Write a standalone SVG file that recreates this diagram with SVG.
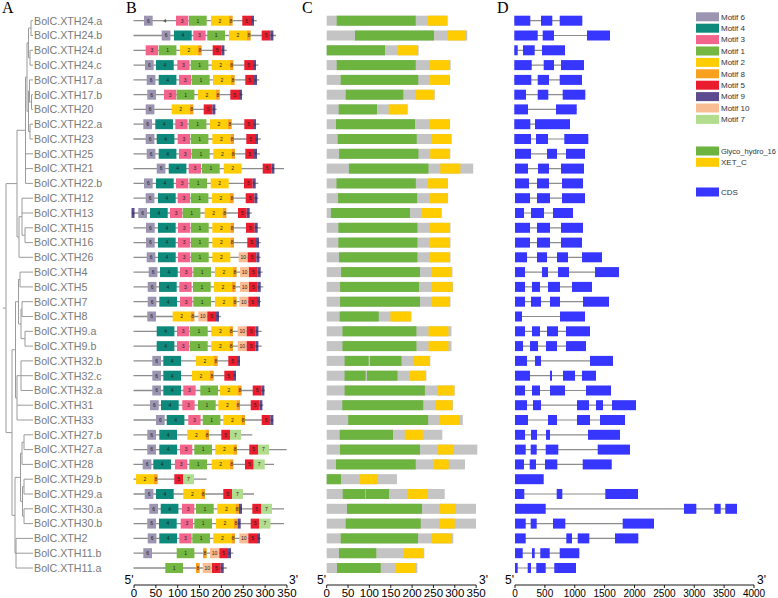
<svg xmlns="http://www.w3.org/2000/svg" xmlns:xlink="http://www.w3.org/1999/xlink" width="778" height="598" viewBox="0 0 778 598">
<style>
.lbl{font-family:"Liberation Sans",Arial,sans-serif;font-size:10.7px;fill:#7a7a7a}
.tree{fill:none;stroke:#9a9a9a;stroke-width:1}
.bl{stroke:#8c8c8c;stroke-width:1.3}
.mt{font-family:"Liberation Sans",Arial,sans-serif;font-size:5px;fill:#222;text-anchor:middle}
.cg{fill:#c4c4c4}.cgr{fill:#6db33f}.cy{fill:#ffcc00}
.ex{fill:#3636ff}.in{stroke:#8c8c8c;stroke-width:1.2}
.ax{stroke:#000;stroke-width:0.9;fill:none}
.num{font-family:"Liberation Sans",Arial,sans-serif;font-size:11.5px;text-anchor:middle;fill:#000}
.numd{font-family:"Liberation Sans",Arial,sans-serif;font-size:10px;text-anchor:middle;fill:#000}
.end{font-family:"Liberation Sans",Arial,sans-serif;font-size:12px;fill:#000}
.pl{font-family:"Liberation Serif","Times New Roman",serif;font-size:16px;fill:#000}
.leg{font-family:"Liberation Sans",Arial,sans-serif;font-size:8px;fill:#333}
</style>
<defs>
<g id="m6"><rect y="-5" width="8.7" height="10" fill="#9c95b2"/><text class="mt" x="4.35" y="1.8">6</text></g>
<g id="m4"><rect y="-5" width="17.7" height="10" fill="#0e8a7c"/><text class="mt" x="8.85" y="1.8">4</text></g>
<g id="m3"><rect y="-5" width="12.3" height="10" fill="#f2648c"/><text class="mt" x="6.15" y="1.8">3</text></g>
<g id="m1"><rect y="-5" width="17.7" height="10" fill="#74b843"/><text class="mt" x="8.85" y="1.8">1</text></g>
<g id="m2"><rect y="-5" width="18" height="10" fill="#ffcd03"/><text class="mt" x="9" y="1.8">2</text></g>
<g id="m8"><rect y="-5" width="3.7" height="10" fill="#f8a11e"/><text class="mt" x="1.85" y="1.8">8</text></g>
<g id="m5"><rect y="-5" width="8.7" height="10" fill="#ea1d2f"/><text class="mt" x="4.35" y="1.8">5</text></g>
<g id="m9"><rect y="-5" width="3" height="10" fill="#5c4b8e"/><text class="mt" x="1.5" y="1.6" style="font-size:4px">9</text></g>
<g id="m10"><rect y="-5" width="9" height="10" fill="#f9bd93"/><text class="mt" x="4.5" y="1.8">10</text></g>
<g id="m7"><rect y="-5" width="11" height="10" fill="#b2dc8e"/><text class="mt" x="5.5" y="1.8">7</text></g>
</defs>

<g id="panel-letters">
<text class="pl" x="2" y="13">A</text>
<text class="pl" x="126" y="13">B</text>
<text class="pl" x="302" y="13">C</text>
<text class="pl" x="497" y="13">D</text>
</g>

<g id="tree" class="tree">
<path d="M31 20.7H33M31 35.5H33M31 20.7V35.5
M30 50.3H33M30 65.1H33M30 50.3V65.1
M31.5 94.7H33M31.5 109.4H33M31.5 94.7V109.4
M29.5 79.9H33M29.5 102.05H31.5M29.5 79.9V102.05
M30 124.2H33M30 139H33M30 124.2V139
M28.5 28.1H31M28.5 57.7H30M28.5 28.1V57.7
M28.5 91H29.5M28.5 131.6H30M28.5 91V131.6
M27 42.9H28.5M27 111.3H28.5M27 42.9V111.3
M25.5 77.1H27M25.5 153.8H33M25.5 168.6H33M25.5 183.4H33M25.5 77.1V183.4
M25 227.8H33M25 242.6H33M25 227.8V242.6
M22 198.2H33M22 213H33M22 235.2H25M22 198.2V235.2
M19 216.7H22M19 257.3H33M19 216.7V257.3
M17 130.3H25.5M17 237H19M17 130.3V237
M20 272.1H33M20 286.9H33M20 272.1V286.9
M22 301.7H33M22 316.5H33M22 301.7V316.5
M25 331.3H33M25 346.1H33M25 331.3V346.1
M21 309.1H22M21 338.7H25M21 309.1V338.7
M18.5 279.5H20M18.5 323.9H21M18.5 279.5V323.9
M21 360.9H33M21 375.7H33M21 390.5H33M21 360.9V390.5
M17 375.7H21M17 405.2H33M17 420H33M17 375.7V420
M24 434.8H33M24 449.6H33M24 434.8V449.6
M22 442.2H24M22 464.4H33M22 442.2V464.4
M24 479.2H33M24 494H33M24 479.2V494
M24 508.8H33M24 523.6H33M24 508.8V523.6
M22.5 486.6H24M22.5 516.2H24M22.5 486.6V516.2
M20.5 453.3H22M20.5 501.4H22.5M20.5 453.3V501.4
M16 538.4H33M16 553.2H33M16 568H33M16 538.4V568
M15 477.4H20.5M15 553.2H16M15 477.4V553.2
M15.5 301.7H18.5M15.5 397.9H17M15.5 301.7V397.9
M12 349.8H15.5M12 515.3H15M12 349.8V515.3
M6 183.6H17M6 432.6H12M6 183.6V432.6M3 308.1H6"/>
</g>

<g id="rows">
<g id="r0" transform="translate(0,20.7)">
<text class="lbl" x="34" y="3.8">BolC.XTH24.a</text>
<line class="bl" x1="133.5" x2="256.7"/>
<use href="#m6" x="144"/><text class="mt" x="165" y="1.8">4</text><use href="#m3" x="176"/><use href="#m1" x="189"/><use href="#m2" x="211"/><use href="#m8" x="229"/><use href="#m5" x="242.3"/><use href="#m9" x="251"/>
<rect class="cg" x="326.7" y="-5" width="121" height="10"/><rect class="cgr" x="336.7" y="-5" width="79" height="10"/><rect class="cy" x="427.3" y="-5" width="19.7" height="10"/>
<line class="in" x1="514.3" x2="582.3"/><rect class="ex" x="514.3" y="-5" width="16" height="10"/><rect class="ex" x="541" y="-5" width="11.3" height="10"/><rect class="ex" x="559.7" y="-5" width="22.6" height="10"/>
</g>
<g id="r1" transform="translate(0,35.5)">
<text class="lbl" x="34" y="3.8">BolC.XTH24.b</text>
<line class="bl" x1="133.5" x2="276"/>
<use href="#m6" x="161.7"/><use href="#m4" x="174"/><use href="#m3" x="193.3"/><use href="#m1" x="207.3"/><use href="#m2" x="229"/><use href="#m8" x="247"/><use href="#m5" x="261.7"/><use href="#m9" x="270.4"/>
<rect class="cg" x="326.7" y="-5" width="140.6" height="10"/><rect class="cgr" x="355" y="-5" width="79" height="10"/><rect class="cy" x="447.3" y="-5" width="18.7" height="10"/>
<line class="in" x1="514.3" x2="610"/><rect class="ex" x="514.3" y="-5" width="23.4" height="10"/><rect class="ex" x="542.7" y="-5" width="11.3" height="10"/><rect class="ex" x="587" y="-5" width="23" height="10"/>
</g>
<g id="r2" transform="translate(0,50.3)">
<text class="lbl" x="34" y="3.8">BolC.XTH24.d</text>
<line class="bl" x1="133.5" x2="226.7"/>
<use href="#m3" x="145.7"/><use href="#m1" x="158.7"/><use href="#m2" x="180"/><use href="#m8" x="198"/><use href="#m5" x="212.7"/><use href="#m9" x="221.4"/>
<rect class="cg" x="326.7" y="-5" width="92" height="10"/><rect class="cgr" x="326.7" y="-5" width="58.3" height="10"/><rect class="cy" x="397.7" y="-5" width="20" height="10"/>
<line class="in" x1="514.3" x2="565"/><rect class="ex" x="514.3" y="-5" width="3.4" height="10"/><rect class="ex" x="523" y="-5" width="11.7" height="10"/><rect class="ex" x="542" y="-5" width="23" height="10"/>
</g>
<g id="r3" transform="translate(0,65.1)">
<text class="lbl" x="34" y="3.8">BolC.XTH24.c</text>
<line class="bl" x1="133.5" x2="258.3"/>
<use href="#m6" x="145"/><use href="#m4" x="156"/><use href="#m3" x="177.3"/><use href="#m1" x="190.7"/><use href="#m2" x="211.7"/><use href="#m8" x="229.7"/><use href="#m5" x="244.3"/><use href="#m9" x="253"/>
<rect class="cg" x="326.7" y="-5" width="124" height="10"/><rect class="cgr" x="336.7" y="-5" width="79" height="10"/><rect class="cy" x="429.3" y="-5" width="20" height="10"/>
<line class="in" x1="514.3" x2="584"/><rect class="ex" x="514.3" y="-5" width="17.4" height="10"/><rect class="ex" x="543.7" y="-5" width="10.3" height="10"/><rect class="ex" x="561" y="-5" width="23" height="10"/>
</g>
<g id="r4" transform="translate(0,79.9)">
<text class="lbl" x="34" y="3.8">BolC.XTH17.a</text>
<line class="bl" x1="133.5" x2="259.3"/>
<use href="#m6" x="146.7"/><use href="#m4" x="158.7"/><use href="#m3" x="179"/><use href="#m1" x="192"/><use href="#m2" x="213"/><use href="#m8" x="231"/><use href="#m5" x="245.3"/><use href="#m9" x="254"/>
<rect class="cg" x="326.7" y="-5" width="123.3" height="10"/><rect class="cgr" x="340.7" y="-5" width="77.6" height="10"/><rect class="cy" x="430" y="-5" width="19.3" height="10"/>
<line class="in" x1="514.3" x2="582"/><rect class="ex" x="514.3" y="-5" width="17" height="10"/><rect class="ex" x="537.7" y="-5" width="11.3" height="10"/><rect class="ex" x="559.7" y="-5" width="22.3" height="10"/>
</g>
<g id="r5" transform="translate(0,94.7)">
<text class="lbl" x="34" y="3.8">BolC.XTH17.b</text>
<line class="bl" x1="133.5" x2="242.7"/>
<use href="#m6" x="147.3"/><use href="#m3" x="164"/><use href="#m1" x="176.7"/><use href="#m2" x="198"/><use href="#m8" x="216"/><use href="#m5" x="230.3"/><use href="#m9" x="239"/>
<rect class="cg" x="326.7" y="-5" width="108" height="10"/><rect class="cgr" x="345.7" y="-5" width="57.6" height="10"/><rect class="cy" x="415" y="-5" width="19.3" height="10"/>
<line class="in" x1="514.3" x2="585.3"/><rect class="ex" x="514.3" y="-5" width="11.7" height="10"/><rect class="ex" x="537.7" y="-5" width="10.6" height="10"/><rect class="ex" x="562.7" y="-5" width="22.6" height="10"/>
</g>
<g id="r6" transform="translate(0,109.4)">
<text class="lbl" x="34" y="3.8">BolC.XTH20</text>
<line class="bl" x1="133.5" x2="216.7"/>
<use href="#m6" x="145.7"/><use href="#m2" x="171.7"/><use href="#m8" x="189.7"/><use href="#m5" x="203.7"/><use href="#m9" x="212.4"/>
<rect class="cg" x="326.7" y="-5" width="81" height="10"/><rect class="cgr" x="338.7" y="-5" width="38.3" height="10"/><rect class="cy" x="388.7" y="-5" width="18.6" height="10"/>
<line class="in" x1="514.3" x2="576.7"/><rect class="ex" x="514.3" y="-5" width="13.7" height="10"/><rect class="ex" x="556" y="-5" width="20.7" height="10"/>
</g>
<g id="r7" transform="translate(0,124.2)">
<text class="lbl" x="34" y="3.8">BolC.XTH22.a</text>
<line class="bl" x1="133.5" x2="259.3"/>
<use href="#m6" x="143.3"/><use href="#m4" x="155.3"/><use href="#m3" x="175.3"/><use href="#m1" x="188.7"/><use href="#m2" x="210"/><use href="#m8" x="228"/><use href="#m5" x="244.3"/><use href="#m9" x="253"/>
<rect class="cg" x="326.7" y="-5" width="123.3" height="10"/><rect class="cgr" x="336" y="-5" width="79" height="10"/><rect class="cy" x="429.7" y="-5" width="19.6" height="10"/>
<line class="in" x1="514.3" x2="570"/><rect class="ex" x="514.3" y="-5" width="16" height="10"/><rect class="ex" x="535" y="-5" width="35" height="10"/>
</g>
<g id="r8" transform="translate(0,139)">
<text class="lbl" x="34" y="3.8">BolC.XTH23</text>
<line class="bl" x1="133.5" x2="260.7"/>
<use href="#m6" x="145.7"/><use href="#m4" x="156.7"/><use href="#m3" x="177.7"/><use href="#m1" x="190.7"/><use href="#m2" x="212.3"/><use href="#m8" x="230.3"/><use href="#m5" x="246.3"/><use href="#m9" x="255"/>
<rect class="cg" x="326.7" y="-5" width="125" height="10"/><rect class="cgr" x="337.7" y="-5" width="79" height="10"/><rect class="cy" x="431" y="-5" width="20" height="10"/>
<line class="in" x1="514.3" x2="588.3"/><rect class="ex" x="514.3" y="-5" width="16.7" height="10"/><rect class="ex" x="536" y="-5" width="12" height="10"/><rect class="ex" x="564.3" y="-5" width="24" height="10"/>
</g>
<g id="r9" transform="translate(0,153.8)">
<text class="lbl" x="34" y="3.8">BolC.XTH25</text>
<line class="bl" x1="133.5" x2="260"/>
<use href="#m6" x="146.7"/><use href="#m4" x="158.7"/><use href="#m3" x="179"/><use href="#m1" x="192"/><use href="#m2" x="213.3"/><use href="#m8" x="231.3"/><use href="#m5" x="245.3"/><use href="#m9" x="254"/>
<rect class="cg" x="326.7" y="-5" width="123.6" height="10"/><rect class="cgr" x="339.1" y="-5" width="79.3" height="10"/><rect class="cy" x="430.2" y="-5" width="19.6" height="10"/>
<line class="in" x1="515" x2="585"/><rect class="ex" x="515" y="-5" width="16" height="10"/><rect class="ex" x="547" y="-5" width="10" height="10"/><rect class="ex" x="566" y="-5" width="19" height="10"/>
</g>
<g id="r10" transform="translate(0,168.6)">
<text class="lbl" x="34" y="3.8">BolC.XTH21</text>
<line class="bl" x1="133.5" x2="284"/>
<use href="#m6" x="156.7"/><use href="#m4" x="168.7"/><use href="#m3" x="188.7"/><use href="#m1" x="202"/><use href="#m2" x="223.7"/><use href="#m5" x="262.7"/><use href="#m9" x="271.4"/>
<rect class="cg" x="326.7" y="-5" width="146.5" height="10"/><rect class="cgr" x="348.9" y="-5" width="79.6" height="10"/><rect class="cy" x="440.3" y="-5" width="20" height="10"/>
<line class="in" x1="515" x2="584"/><rect class="ex" x="515" y="-5" width="13" height="10"/><rect class="ex" x="538" y="-5" width="11" height="10"/><rect class="ex" x="561" y="-5" width="23" height="10"/>
</g>
<g id="r11" transform="translate(0,183.4)">
<text class="lbl" x="34" y="3.8">BolC.XTH22.b</text>
<line class="bl" x1="133.5" x2="258.3"/>
<use href="#m6" x="144"/><use href="#m4" x="156"/><use href="#m3" x="176"/><use href="#m1" x="189.3"/><use href="#m2" x="210.7"/><use href="#m5" x="244"/><use href="#m9" x="252.7"/>
<rect class="cg" x="326.7" y="-5" width="121.4" height="10"/><rect class="cgr" x="336.5" y="-5" width="79.3" height="10"/><rect class="cy" x="427.7" y="-5" width="19.9" height="10"/>
<line class="in" x1="515" x2="583"/><rect class="ex" x="515" y="-5" width="14" height="10"/><rect class="ex" x="537" y="-5" width="12" height="10"/><rect class="ex" x="562" y="-5" width="21" height="10"/>
</g>
<g id="r12" transform="translate(0,198.2)">
<text class="lbl" x="34" y="3.8">BolC.XTH12</text>
<line class="bl" x1="133.5" x2="258.3"/>
<use href="#m6" x="145.7"/><use href="#m4" x="158"/><use href="#m3" x="177.7"/><use href="#m1" x="190.7"/><use href="#m2" x="212"/><use href="#m8" x="230"/><use href="#m5" x="245.7"/><use href="#m9" x="254.4"/>
<rect class="cg" x="326.7" y="-5" width="121.4" height="10"/><rect class="cgr" x="338.1" y="-5" width="79" height="10"/><rect class="cy" x="429.2" y="-5" width="18.4" height="10"/>
<line class="in" x1="515" x2="585"/><rect class="ex" x="515" y="-5" width="15" height="10"/><rect class="ex" x="537" y="-5" width="13" height="10"/><rect class="ex" x="562" y="-5" width="23" height="10"/>
</g>
<g id="r13" transform="translate(0,213)">
<text class="lbl" x="34" y="3.8">BolC.XTH13</text>
<line class="bl" x1="133.5" x2="251.7"/>
<use href="#m9" x="131.5"/><use href="#m6" x="138.3"/><use href="#m4" x="150"/><use href="#m3" x="170"/><use href="#m1" x="182.7"/><use href="#m2" x="204.7"/><use href="#m8" x="222.7"/><use href="#m5" x="238"/><use href="#m9" x="246.7"/>
<rect class="cg" x="326.7" y="-5" width="115" height="10"/><rect class="cgr" x="330.9" y="-5" width="79.1" height="10"/><rect class="cy" x="422.1" y="-5" width="19.1" height="10"/>
<line class="in" x1="515" x2="573"/><rect class="ex" x="515" y="-5" width="9" height="10"/><rect class="ex" x="531" y="-5" width="13" height="10"/><rect class="ex" x="553" y="-5" width="20" height="10"/>
</g>
<g id="r14" transform="translate(0,227.8)">
<text class="lbl" x="34" y="3.8">BolC.XTH15</text>
<line class="bl" x1="133.5" x2="260.7"/>
<use href="#m6" x="146"/><use href="#m4" x="158"/><use href="#m3" x="178"/><use href="#m1" x="191"/><use href="#m2" x="212.3"/><use href="#m8" x="230.3"/><use href="#m5" x="246"/><use href="#m9" x="254.7"/>
<rect class="cg" x="326.7" y="-5" width="123.8" height="10"/><rect class="cgr" x="338.4" y="-5" width="79" height="10"/><rect class="cy" x="429.2" y="-5" width="20.8" height="10"/>
<line class="in" x1="515" x2="583"/><rect class="ex" x="515" y="-5" width="15" height="10"/><rect class="ex" x="537" y="-5" width="13" height="10"/><rect class="ex" x="561" y="-5" width="22" height="10"/>
</g>
<g id="r15" transform="translate(0,242.6)">
<text class="lbl" x="34" y="3.8">BolC.XTH16</text>
<line class="bl" x1="133.5" x2="260.7"/>
<use href="#m6" x="146"/><use href="#m4" x="158"/><use href="#m3" x="178"/><use href="#m1" x="191"/><use href="#m2" x="212.3"/><use href="#m8" x="230.3"/><use href="#m5" x="247.3"/><use href="#m9" x="256"/>
<rect class="cg" x="326.7" y="-5" width="123.8" height="10"/><rect class="cgr" x="338.4" y="-5" width="79" height="10"/><rect class="cy" x="429.2" y="-5" width="20.8" height="10"/>
<line class="in" x1="515" x2="582"/><rect class="ex" x="515" y="-5" width="15" height="10"/><rect class="ex" x="537" y="-5" width="13" height="10"/><rect class="ex" x="561" y="-5" width="21" height="10"/>
</g>
<g id="r16" transform="translate(0,257.3)">
<text class="lbl" x="34" y="3.8">BolC.XTH26</text>
<line class="bl" x1="133.5" x2="260.7"/>
<use href="#m6" x="146.7"/><use href="#m4" x="158"/><use href="#m3" x="178"/><use href="#m1" x="191"/><use href="#m2" x="212.3"/><use href="#m10" x="238.7"/><use href="#m5" x="247.7"/><use href="#m9" x="256.4"/>
<rect class="cg" x="326.7" y="-5" width="123.8" height="10"/><rect class="cgr" x="339.1" y="-5" width="78.3" height="10"/><rect class="cy" x="429.3" y="-5" width="20.7" height="10"/>
<line class="in" x1="515" x2="602"/><rect class="ex" x="515" y="-5" width="12" height="10"/><rect class="ex" x="537" y="-5" width="10" height="10"/><rect class="ex" x="557" y="-5" width="11" height="10"/><rect class="ex" x="582" y="-5" width="20" height="10"/>
</g>
<g id="r17" transform="translate(0,272.1)">
<text class="lbl" x="34" y="3.8">BolC.XTH4</text>
<line class="bl" x1="133.5" x2="262.7"/>
<use href="#m6" x="148.7"/><use href="#m4" x="160"/><use href="#m3" x="180"/><use href="#m1" x="193.3"/><use href="#m2" x="215"/><use href="#m8" x="233"/><use href="#m10" x="240"/><use href="#m5" x="249"/><use href="#m9" x="257.7"/>
<rect class="cg" x="326.7" y="-5" width="125.7" height="10"/><rect class="cgr" x="341.1" y="-5" width="78.9" height="10"/><rect class="cy" x="431.8" y="-5" width="20.1" height="10"/>
<line class="in" x1="515" x2="619"/><rect class="ex" x="515" y="-5" width="10" height="10"/><rect class="ex" x="542" y="-5" width="6" height="10"/><rect class="ex" x="558" y="-5" width="11" height="10"/><rect class="ex" x="595" y="-5" width="24" height="10"/>
</g>
<g id="r18" transform="translate(0,286.9)">
<text class="lbl" x="34" y="3.8">BolC.XTH5</text>
<line class="bl" x1="133.5" x2="263.3"/>
<use href="#m6" x="147.7"/><use href="#m4" x="159"/><use href="#m3" x="179.3"/><use href="#m1" x="193"/><use href="#m2" x="214"/><use href="#m8" x="232"/><use href="#m10" x="240"/><use href="#m5" x="249"/><use href="#m9" x="257.7"/>
<rect class="cg" x="326.7" y="-5" width="126.3" height="10"/><rect class="cgr" x="340.1" y="-5" width="78.9" height="10"/><rect class="cy" x="431.2" y="-5" width="21.3" height="10"/>
<line class="in" x1="515" x2="592"/><rect class="ex" x="515" y="-5" width="10" height="10"/><rect class="ex" x="532" y="-5" width="8" height="10"/><rect class="ex" x="548" y="-5" width="12" height="10"/><rect class="ex" x="572" y="-5" width="20" height="10"/>
</g>
<g id="r19" transform="translate(0,301.7)">
<text class="lbl" x="34" y="3.8">BolC.XTH7</text>
<line class="bl" x1="133.5" x2="261"/>
<use href="#m6" x="147.7"/><use href="#m4" x="159.3"/><use href="#m3" x="180"/><use href="#m1" x="193.3"/><use href="#m2" x="215"/><use href="#m8" x="233"/><use href="#m10" x="239.3"/><use href="#m5" x="248.3"/><use href="#m9" x="257"/>
<rect class="cg" x="326.7" y="-5" width="123.8" height="10"/><rect class="cgr" x="340.1" y="-5" width="79.9" height="10"/><rect class="cy" x="431.8" y="-5" width="18.2" height="10"/>
<line class="in" x1="515" x2="609"/><rect class="ex" x="515" y="-5" width="10" height="10"/><rect class="ex" x="531" y="-5" width="10" height="10"/><rect class="ex" x="550" y="-5" width="10" height="10"/><rect class="ex" x="583" y="-5" width="26" height="10"/>
</g>
<g id="r20" transform="translate(0,316.5)">
<text class="lbl" x="34" y="3.8">BolC.XTH8</text>
<line class="bl" x1="133.5" x2="220.7"/>
<use href="#m6" x="147.3"/><use href="#m2" x="172.7"/><use href="#m8" x="190.7"/><use href="#m10" x="198.3"/><use href="#m5" x="207.3"/><use href="#m9" x="216"/>
<rect class="cg" x="326.7" y="-5" width="84.7" height="10"/><rect class="cgr" x="339.7" y="-5" width="39" height="10"/><rect class="cy" x="390.4" y="-5" width="20.5" height="10"/>
<line class="in" x1="515" x2="585"/><rect class="ex" x="515" y="-5" width="7" height="10"/><rect class="ex" x="560" y="-5" width="25" height="10"/>
</g>
<g id="r21" transform="translate(0,331.3)">
<text class="lbl" x="34" y="3.8">BolC.XTH9.a</text>
<line class="bl" x1="133.5" x2="261.7"/>
<use href="#m4" x="156.7"/><use href="#m3" x="177"/><use href="#m1" x="190"/><use href="#m2" x="211.3"/><use href="#m8" x="229.3"/><use href="#m10" x="237.7"/><use href="#m5" x="246.7"/><use href="#m9" x="255.4"/>
<rect class="cg" x="326.7" y="-5" width="124.8" height="10"/><rect class="cgr" x="342.5" y="-5" width="73.9" height="10"/><rect class="cy" x="428.5" y="-5" width="20" height="10"/>
<line class="in" x1="515" x2="590"/><rect class="ex" x="515" y="-5" width="10" height="10"/><rect class="ex" x="532" y="-5" width="8" height="10"/><rect class="ex" x="547" y="-5" width="11" height="10"/><rect class="ex" x="566" y="-5" width="24" height="10"/>
</g>
<g id="r22" transform="translate(0,346.1)">
<text class="lbl" x="34" y="3.8">BolC.XTH9.b</text>
<line class="bl" x1="133.5" x2="261.7"/>
<use href="#m4" x="156.7"/><use href="#m3" x="177"/><use href="#m1" x="190"/><use href="#m2" x="211.3"/><use href="#m8" x="229.3"/><use href="#m10" x="237.7"/><use href="#m5" x="246.7"/><use href="#m9" x="255.4"/>
<rect class="cg" x="326.7" y="-5" width="124.8" height="10"/><rect class="cgr" x="342.5" y="-5" width="73.9" height="10"/><rect class="cy" x="428.5" y="-5" width="20" height="10"/>
<line class="in" x1="515" x2="586"/><rect class="ex" x="515" y="-5" width="8" height="10"/><rect class="ex" x="530" y="-5" width="8" height="10"/><rect class="ex" x="546" y="-5" width="11" height="10"/><rect class="ex" x="566" y="-5" width="20" height="10"/>
</g>
<g id="r23" transform="translate(0,360.9)">
<text class="lbl" x="34" y="3.8">BolC.XTH32.b</text>
<line class="bl" x1="133.5" x2="240"/>
<use href="#m6" x="152.3"/><use href="#m4" x="163.3"/><use href="#m2" x="196"/><use href="#m8" x="214"/><use href="#m5" x="228.3"/><use href="#m9" x="237"/>
<rect class="cg" x="326.7" y="-5" width="103.6" height="10"/><rect class="cgr" x="344.6" y="-5" width="24" height="10"/><rect class="cgr" x="370" y="-5" width="31.5" height="10"/><rect class="cy" x="413.3" y="-5" width="16.5" height="10"/>
<line class="in" x1="515" x2="613"/><rect class="ex" x="515" y="-5" width="12" height="10"/><rect class="ex" x="535" y="-5" width="6" height="10"/><rect class="ex" x="590" y="-5" width="23" height="10"/>
</g>
<g id="r24" transform="translate(0,375.7)">
<text class="lbl" x="34" y="3.8">BolC.XTH32.c</text>
<line class="bl" x1="133.5" x2="236"/>
<use href="#m6" x="152.3"/><use href="#m4" x="163.3"/><use href="#m2" x="192"/><use href="#m8" x="210"/><use href="#m5" x="224.3"/><use href="#m9" x="233"/>
<rect class="cg" x="326.7" y="-5" width="99.7" height="10"/><rect class="cgr" x="344.6" y="-5" width="21" height="10"/><rect class="cgr" x="367" y="-5" width="30.5" height="10"/><rect class="cy" x="409.7" y="-5" width="16.3" height="10"/>
<line class="in" x1="515" x2="596"/><rect class="ex" x="515" y="-5" width="15" height="10"/><rect class="ex" x="550" y="-5" width="2" height="10"/><rect class="ex" x="563" y="-5" width="12" height="10"/><rect class="ex" x="582" y="-5" width="14" height="10"/>
</g>
<g id="r25" transform="translate(0,390.5)">
<text class="lbl" x="34" y="3.8">BolC.XTH32.a</text>
<line class="bl" x1="133.5" x2="265"/>
<use href="#m6" x="152.3"/><use href="#m4" x="163.3"/><use href="#m3" x="183.3"/><use href="#m1" x="200.3"/><use href="#m2" x="220"/><use href="#m8" x="238"/><use href="#m5" x="252.7"/><use href="#m9" x="261.4"/>
<rect class="cg" x="326.7" y="-5" width="128" height="10"/><rect class="cgr" x="344.6" y="-5" width="80.3" height="10"/><rect class="cy" x="437.3" y="-5" width="17" height="10"/>
<line class="in" x1="515" x2="611"/><rect class="ex" x="515" y="-5" width="10" height="10"/><rect class="ex" x="532" y="-5" width="8" height="10"/><rect class="ex" x="550" y="-5" width="15" height="10"/><rect class="ex" x="586" y="-5" width="25" height="10"/>
</g>
<g id="r26" transform="translate(0,405.2)">
<text class="lbl" x="34" y="3.8">BolC.XTH31</text>
<line class="bl" x1="133.5" x2="263.3"/>
<use href="#m6" x="150"/><use href="#m4" x="161"/><use href="#m3" x="182.3"/><use href="#m1" x="198"/><use href="#m2" x="218.3"/><use href="#m8" x="236.3"/><use href="#m5" x="250.7"/><use href="#m9" x="259.4"/>
<rect class="cg" x="326.7" y="-5" width="126.3" height="10"/><rect class="cgr" x="342.3" y="-5" width="80.9" height="10"/><rect class="cy" x="435.1" y="-5" width="17.4" height="10"/>
<line class="in" x1="515" x2="636"/><rect class="ex" x="515" y="-5" width="12" height="10"/><rect class="ex" x="533" y="-5" width="8" height="10"/><rect class="ex" x="577" y="-5" width="12" height="10"/><rect class="ex" x="596" y="-5" width="7" height="10"/><rect class="ex" x="612" y="-5" width="24" height="10"/>
</g>
<g id="r27" transform="translate(0,420)">
<text class="lbl" x="34" y="3.8">BolC.XTH33</text>
<line class="bl" x1="133.5" x2="273.3"/>
<use href="#m6" x="156"/><use href="#m4" x="166.7"/><use href="#m3" x="188.3"/><use href="#m1" x="202.7"/><use href="#m2" x="223.3"/><use href="#m8" x="241.3"/><use href="#m5" x="261.7"/><use href="#m9" x="270.4"/>
<rect class="cg" x="326.7" y="-5" width="136.1" height="10"/><rect class="cgr" x="348.2" y="-5" width="79.9" height="10"/><rect class="cy" x="440" y="-5" width="20" height="10"/>
<line class="in" x1="515" x2="625"/><rect class="ex" x="515" y="-5" width="13" height="10"/><rect class="ex" x="548" y="-5" width="9" height="10"/><rect class="ex" x="577" y="-5" width="13" height="10"/><rect class="ex" x="600" y="-5" width="25" height="10"/>
</g>
<g id="r28" transform="translate(0,434.8)">
<text class="lbl" x="34" y="3.8">BolC.XTH27.b</text>
<line class="bl" x1="133.5" x2="252.3"/>
<use href="#m6" x="147.3"/><use href="#m4" x="159.3"/><use href="#m2" x="187.3"/><use href="#m8" x="205.3"/><use href="#m5" x="221.3"/><use href="#m7" x="230"/>
<rect class="cg" x="326.7" y="-5" width="115.6" height="10"/><rect class="cgr" x="339.7" y="-5" width="53.3" height="10"/><rect class="cy" x="404.8" y="-5" width="18" height="10"/>
<line class="in" x1="515" x2="620"/><rect class="ex" x="515" y="-5" width="10" height="10"/><rect class="ex" x="531" y="-5" width="6" height="10"/><rect class="ex" x="546" y="-5" width="4" height="10"/><rect class="ex" x="588" y="-5" width="32" height="10"/>
</g>
<g id="r29" transform="translate(0,449.6)">
<text class="lbl" x="34" y="3.8">BolC.XTH27.a</text>
<line class="bl" x1="133.5" x2="286.7"/>
<use href="#m6" x="147.3"/><use href="#m4" x="159.3"/><use href="#m3" x="180"/><use href="#m1" x="194.3"/><use href="#m2" x="215.3"/><use href="#m8" x="233.3"/><use href="#m5" x="249.3"/><use href="#m7" x="258"/>
<rect class="cg" x="326.7" y="-5" width="150.6" height="10"/><rect class="cgr" x="340" y="-5" width="80" height="10"/><rect class="cy" x="437.3" y="-5" width="16" height="10"/>
<line class="in" x1="515" x2="630"/><rect class="ex" x="515" y="-5" width="10.7" height="10"/><rect class="ex" x="530.7" y="-5" width="6" height="10"/><rect class="ex" x="545.7" y="-5" width="12.6" height="10"/><rect class="ex" x="597.7" y="-5" width="32.3" height="10"/>
</g>
<g id="r30" transform="translate(0,464.4)">
<text class="lbl" x="34" y="3.8">BolC.XTH28</text>
<line class="bl" x1="133.5" x2="274"/>
<use href="#m6" x="142.7"/><use href="#m4" x="153.3"/><use href="#m3" x="175"/><use href="#m1" x="189.3"/><use href="#m2" x="211.7"/><use href="#m8" x="229.7"/><use href="#m5" x="245"/><use href="#m7" x="253.7"/>
<rect class="cg" x="326.7" y="-5" width="138.3" height="10"/><rect class="cgr" x="336" y="-5" width="79.7" height="10"/><rect class="cy" x="433" y="-5" width="15.7" height="10"/>
<line class="in" x1="515" x2="611.7"/><rect class="ex" x="515" y="-5" width="9" height="10"/><rect class="ex" x="529.7" y="-5" width="6.3" height="10"/><rect class="ex" x="545" y="-5" width="12.3" height="10"/><rect class="ex" x="582.7" y="-5" width="29" height="10"/>
</g>
<g id="r31" transform="translate(0,479.2)">
<text class="lbl" x="34" y="3.8">BolC.XTH29.b</text>
<line class="bl" x1="133.5" x2="206.7"/>
<use href="#m2" x="136"/><use href="#m8" x="154"/><use href="#m5" x="174.3"/><use href="#m7" x="183"/>
<rect class="cg" x="326.7" y="-5" width="70.3" height="10"/><rect class="cgr" x="326.7" y="-5" width="14.3" height="10"/><rect class="cy" x="360" y="-5" width="17.7" height="10"/>
<rect class="ex" x="515" y="-5" width="28.7" height="10"/>
</g>
<g id="r32" transform="translate(0,494)">
<text class="lbl" x="34" y="3.8">BolC.XTH29.a</text>
<line class="bl" x1="133.5" x2="254"/>
<use href="#m6" x="144.7"/><use href="#m4" x="156"/><use href="#m2" x="183.3"/><use href="#m8" x="201.3"/><use href="#m5" x="223.3"/><use href="#m7" x="232"/>
<rect class="cg" x="326.7" y="-5" width="118" height="10"/><rect class="cgr" x="342.7" y="-5" width="22.3" height="10"/><rect class="cgr" x="365.7" y="-5" width="23.3" height="10"/><rect class="cy" x="407.7" y="-5" width="19.3" height="10"/>
<line class="in" x1="515" x2="638"/><rect class="ex" x="515" y="-5" width="9.3" height="10"/><rect class="ex" x="556.7" y="-5" width="5.6" height="10"/><rect class="ex" x="605.3" y="-5" width="32.7" height="10"/>
</g>
<g id="r33" transform="translate(0,508.8)">
<text class="lbl" x="34" y="3.8">BolC.XTH30.a</text>
<line class="bl" x1="133.5" x2="284"/>
<use href="#m6" x="149.3"/><use href="#m4" x="160.7"/><use href="#m3" x="182"/><use href="#m1" x="196"/><use href="#m2" x="217.3"/><use href="#m8" x="235.3"/><use href="#m9" x="239"/><use href="#m5" x="252.3"/><use href="#m7" x="261"/>
<rect class="cg" x="326.7" y="-5" width="149.3" height="10"/><rect class="cgr" x="347" y="-5" width="75" height="10"/><rect class="cy" x="439.7" y="-5" width="16" height="10"/>
<line class="in" x1="515" x2="737"/><rect class="ex" x="515" y="-5" width="30.7" height="10"/><rect class="ex" x="684" y="-5" width="12.3" height="10"/><rect class="ex" x="714.3" y="-5" width="6.4" height="10"/><rect class="ex" x="725.3" y="-5" width="11.7" height="10"/>
</g>
<g id="r34" transform="translate(0,523.6)">
<text class="lbl" x="34" y="3.8">BolC.XTH30.b</text>
<line class="bl" x1="133.5" x2="284"/>
<use href="#m6" x="147.3"/><use href="#m4" x="159"/><use href="#m3" x="180.7"/><use href="#m1" x="194.3"/><use href="#m2" x="216"/><use href="#m8" x="234"/><use href="#m9" x="237.7"/><use href="#m5" x="250.7"/><use href="#m7" x="259.4"/>
<rect class="cg" x="326.7" y="-5" width="149.3" height="10"/><rect class="cgr" x="345.7" y="-5" width="75" height="10"/><rect class="cy" x="439" y="-5" width="15.7" height="10"/>
<line class="in" x1="515" x2="654"/><rect class="ex" x="515" y="-5" width="10.7" height="10"/><rect class="ex" x="530.7" y="-5" width="6" height="10"/><rect class="ex" x="553" y="-5" width="12.3" height="10"/><rect class="ex" x="622.7" y="-5" width="31.3" height="10"/>
</g>
<g id="r35" transform="translate(0,538.4)">
<text class="lbl" x="34" y="3.8">BolC.XTH2</text>
<line class="bl" x1="133.5" x2="260.7"/>
<use href="#m6" x="147.7"/><use href="#m4" x="159.3"/><use href="#m3" x="179.3"/><use href="#m1" x="192.3"/><use href="#m2" x="213.3"/><use href="#m8" x="231.3"/><use href="#m10" x="239.3"/><use href="#m5" x="248.3"/><use href="#m9" x="257"/>
<rect class="cg" x="326.7" y="-5" width="126.6" height="10"/><rect class="cgr" x="340.7" y="-5" width="77.3" height="10"/><rect class="cy" x="432" y="-5" width="19.7" height="10"/>
<line class="in" x1="515" x2="638.3"/><rect class="ex" x="515" y="-5" width="10.7" height="10"/><rect class="ex" x="566.3" y="-5" width="5.7" height="10"/><rect class="ex" x="577.7" y="-5" width="11.6" height="10"/><rect class="ex" x="615" y="-5" width="23.3" height="10"/>
</g>
<g id="r36" transform="translate(0,553.2)">
<text class="lbl" x="34" y="3.8">BolC.XTH11.b</text>
<line class="bl" x1="133.5" x2="233.3"/>
<use href="#m6" x="143.3"/><use href="#m1" x="176.7"/><use href="#m8" x="203"/><use href="#m10" x="210"/><use href="#m5" x="219.3"/><use href="#m9" x="228"/>
<rect class="cg" x="326.7" y="-5" width="97.6" height="10"/><rect class="cgr" x="339" y="-5" width="37.3" height="10"/><rect class="cy" x="403" y="-5" width="21" height="10"/>
<line class="in" x1="515" x2="579.3"/><rect class="ex" x="515" y="-5" width="7.7" height="10"/><rect class="ex" x="532" y="-5" width="2.7" height="10"/><rect class="ex" x="540.3" y="-5" width="9.4" height="10"/><rect class="ex" x="559.7" y="-5" width="19.6" height="10"/>
</g>
<g id="r37" transform="translate(0,568)">
<text class="lbl" x="34" y="3.8">BolC.XTH11.a</text>
<line class="bl" x1="133.5" x2="226.7"/>
<use href="#m1" x="165.3"/><use href="#m8" x="196"/><use href="#m10" x="202.7"/><use href="#m5" x="212"/><use href="#m9" x="220.7"/>
<rect class="cg" x="326.7" y="-5" width="90.6" height="10"/><rect class="cgr" x="337" y="-5" width="43.7" height="10"/><rect class="cy" x="396" y="-5" width="20" height="10"/>
<line class="in" x1="515" x2="576"/><rect class="ex" x="515" y="-5" width="2.7" height="10"/><rect class="ex" x="527.7" y="-5" width="3.3" height="10"/><rect class="ex" x="536.3" y="-5" width="9.4" height="10"/><rect class="ex" x="554.3" y="-5" width="21.7" height="10"/>
</g>
</g>

<g id="axes">
<path class="ax" d="M134 585H287M134 585v3M155.85 585v3M177.7 585v3M199.55 585v3M221.4 585v3M243.25 585v3M265.1 585v3M286.95 585v3"/>
<text class="end" x="124.5" y="584">5'</text><text class="end" x="289" y="584">3'</text>
<text class="num" x="134" y="597">0</text><text class="num" x="155.85" y="597">50</text><text class="num" x="177.7" y="597">100</text><text class="num" x="199.55" y="597">150</text><text class="num" x="221.4" y="597">200</text><text class="num" x="243.25" y="597">250</text><text class="num" x="265.1" y="597">300</text><text class="num" x="286.95" y="597">350</text>
<path class="ax" d="M326.7 585H476.2M326.7 585v3M348.05 585v3M369.4 585v3M390.75 585v3M412.1 585v3M433.45 585v3M454.8 585v3M476.15 585v3"/>
<text class="end" x="317" y="584">5'</text><text class="end" x="479" y="584">3'</text>
<text class="num" x="326.7" y="597">0</text><text class="num" x="348.05" y="597">50</text><text class="num" x="369.4" y="597">100</text><text class="num" x="390.75" y="597">150</text><text class="num" x="412.1" y="597">200</text><text class="num" x="433.45" y="597">250</text><text class="num" x="454.8" y="597">300</text><text class="num" x="476.15" y="597">350</text>
<path class="ax" d="M515 585H754M515 585v3M544.9 585v3M574.75 585v3M604.6 585v3M634.5 585v3M664.4 585v3M694.25 585v3M724.1 585v3M754 585v3"/>
<text class="end" x="505" y="584">5'</text><text class="end" x="757" y="584">3'</text>
<text class="numd" x="515" y="597">0</text><text class="numd" x="544.9" y="597">500</text><text class="numd" x="574.75" y="597">1000</text><text class="numd" x="604.6" y="597">1500</text><text class="numd" x="634.5" y="597">2000</text><text class="numd" x="664.4" y="597">2500</text><text class="numd" x="694.25" y="597">3000</text><text class="numd" x="724.1" y="597">3500</text><text class="numd" x="754" y="597">4000</text>
</g>

<g id="legend">
<rect x="696" y="12.3" width="23" height="9" fill="#9c95b2"/><text class="leg" x="721" y="19.6">Motif 6</text>
<rect x="696" y="23.7" width="23" height="9" fill="#0e8a7c"/><text class="leg" x="721" y="31">Motif 4</text>
<rect x="696" y="35.1" width="23" height="9" fill="#f2648c"/><text class="leg" x="721" y="42.4">Motif 3</text>
<rect x="696" y="46.5" width="23" height="9" fill="#74b843"/><text class="leg" x="721" y="53.8">Motif 1</text>
<rect x="696" y="57.9" width="23" height="9" fill="#ffcd03"/><text class="leg" x="721" y="65.2">Motif 2</text>
<rect x="696" y="69.3" width="23" height="9" fill="#f8a11e"/><text class="leg" x="721" y="76.6">Motif 8</text>
<rect x="696" y="80.7" width="23" height="9" fill="#ea1d2f"/><text class="leg" x="721" y="88">Motif 5</text>
<rect x="696" y="92.1" width="23" height="9" fill="#5c4b8e"/><text class="leg" x="721" y="99.4">Motif 9</text>
<rect x="696" y="103.5" width="23" height="9" fill="#f9bd93"/><text class="leg" x="721" y="110.8">Motif 10</text>
<rect x="696" y="114.9" width="23" height="9" fill="#b2dc8e"/><text class="leg" x="721" y="122.2">Motif 7</text>
<rect x="696" y="146.5" width="23" height="9" fill="#6db33f"/><text class="leg" x="721" y="153.8" textLength="55" lengthAdjust="spacingAndGlyphs">Glyco_hydro_16</text>
<rect x="696" y="157.8" width="23" height="9" fill="#ffcc00"/><text class="leg" x="721" y="165.1">XET_C</text>
<rect x="696" y="187.5" width="23" height="9" fill="#3636ff"/><text class="leg" x="721" y="194.8">CDS</text>
</g>
</svg>
